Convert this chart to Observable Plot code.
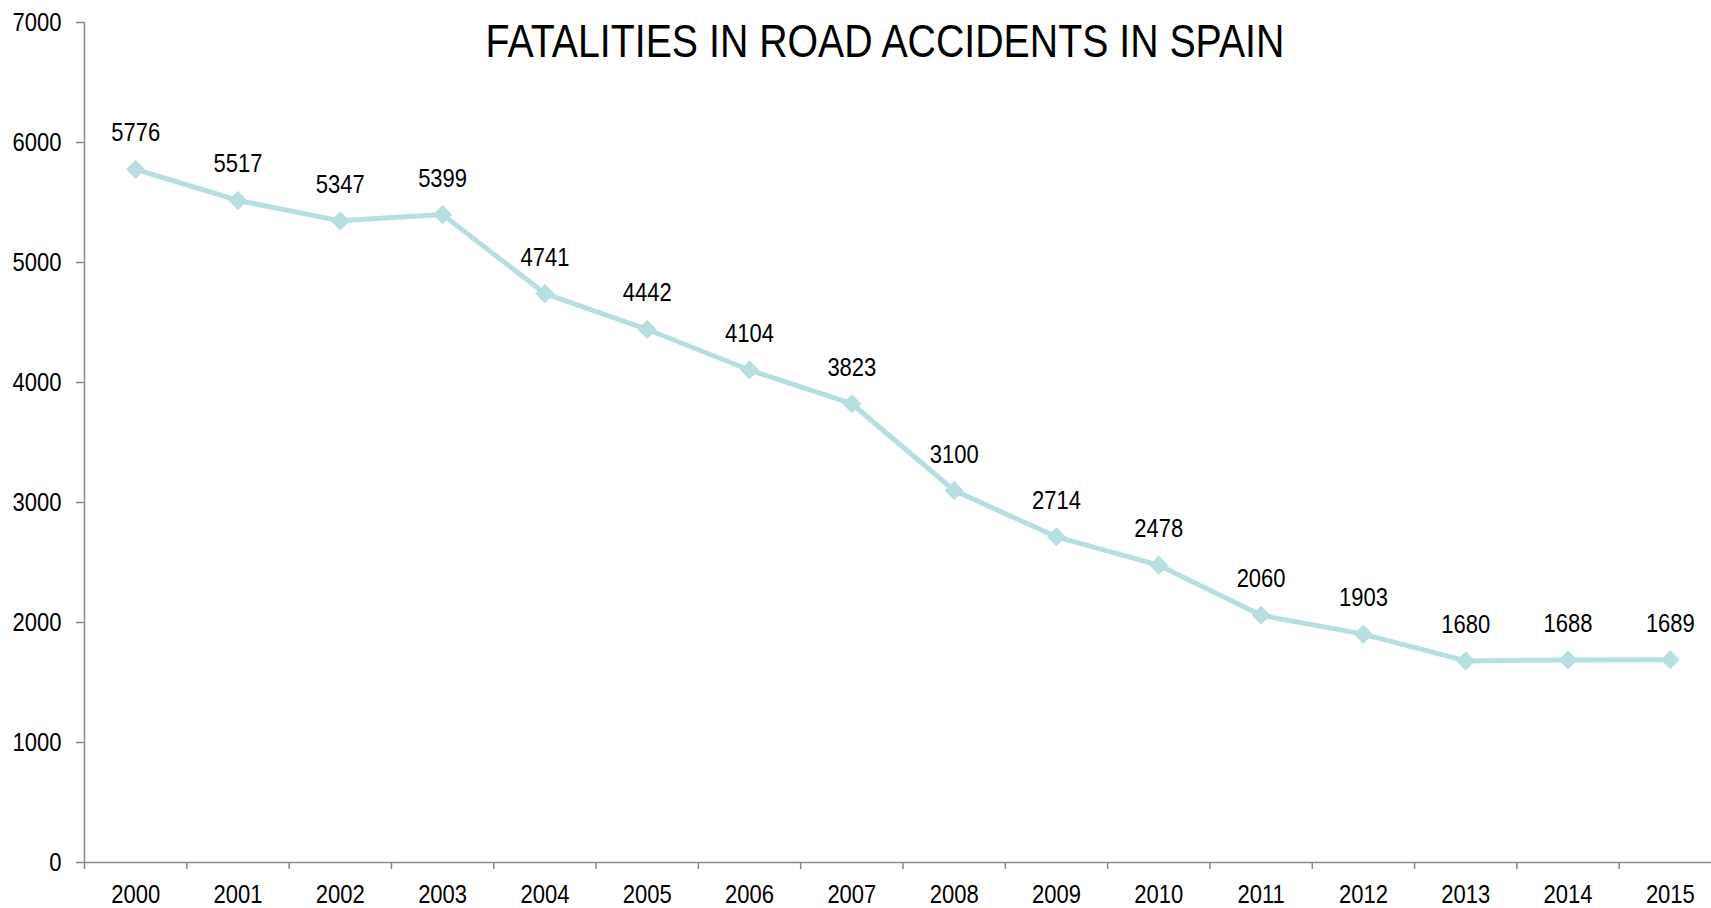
<!DOCTYPE html>
<html>
<head>
<meta charset="utf-8">
<script src="https://cdn.jsdelivr.net/npm/d3@7"></script>
<script src="https://cdn.jsdelivr.net/npm/@observablehq/plot@0.6"></script>
<style>
  html, body { margin: 0; padding: 0; background: #fff; }
  #chart svg { display: block; }
</style>
</head>
<body>
<div id="chart"></div>
<script>
const title = "FATALITIES IN ROAD ACCIDENTS IN SPAIN";
const years = [2000, 2001, 2002, 2003, 2004, 2005, 2006, 2007, 2008, 2009, 2010, 2011, 2012, 2013, 2014, 2015];
const fatalities = [5776, 5517, 5347, 5399, 4741, 4442, 4104, 3823, 3100, 2714, 2478, 2060, 1903, 1680, 1688, 1689];
const yTicks = [0, 1000, 2000, 3000, 4000, 5000, 6000, 7000];
const bandEdges = [...years.map(y => y - 0.5), years[years.length - 1] + 0.5];

const data = years.map((year, i) => ({year, value: fatalities[i]}));

const FONT = "'Liberation Sans Narrow', 'Arial Narrow', 'Liberation Sans', Arial, sans-serif";
const LINE = "#b7dee0";
const AXIS = "#8a8a8a";

const chart = Plot.plot({
  width: 1711,
  height: 908,
  marginLeft: 84,
  marginRight: 0,
  marginTop: 22,
  marginBottom: 46,
  style: {fontFamily: FONT, fontSize: "25px", color: "#000", background: "#fff"},
  x: {type: "linear", domain: [bandEdges[0], bandEdges[bandEdges.length - 1]], range: [84, 1721]},
  y: {domain: [0, 7000]},
  marks: [
    Plot.axisY({ticks: yTicks, tickSize: 8, tickPadding: 15, stroke: AXIS, strokeWidth: 1.5, strokeOpacity: 1,
      tickFormat: d => String(d), fill: "#000", fontSize: 25, label: null}),
    Plot.axisX({ticks: bandEdges, tickSize: 7, tickFormat: () => "", stroke: AXIS, strokeWidth: 1.5, strokeOpacity: 1, label: null}),
    Plot.axisX({ticks: years, tickSize: 0, tickPadding: 23, tickFormat: d => String(d), fill: "#000", fontSize: 25, label: null}),
    Plot.ruleX([bandEdges[0]], {stroke: AXIS, strokeWidth: 1.5}),
    Plot.ruleY([0], {stroke: AXIS, strokeWidth: 1.5}),
    Plot.line(data, {x: "year", y: "value", stroke: LINE, strokeWidth: 5, strokeLinejoin: "miter"}),
    Plot.dot(data, {x: "year", y: "value", symbol: "diamond2", r: 8.6, fill: LINE, stroke: "none"}),
    Plot.text(data, {x: "year", y: "value", text: d => String(d.value), dy: -36, fill: "#000", fontSize: 25}),
    Plot.text([title], {frameAnchor: "top", dx: -13, dy: 1.5, fontSize: 46, fill: "#000", lineAnchor: "top"})
  ]
});
document.getElementById("chart").appendChild(chart);

// Condense text horizontally about its anchor point to mimic the narrow typeface of the original
chart.querySelectorAll("text").forEach(t => {
  const k = t.textContent === title ? 0.854 : 0.88;
  const xs = t.getAttribute("x");
  const X = xs != null && isFinite(+xs) ? +xs : 0;
  const tr = t.getAttribute("transform") || "";
  t.setAttribute("transform", `${tr} translate(${X},0) scale(${k},1) translate(${-X},0)`.trim());
});
</script>
</body>
</html>
